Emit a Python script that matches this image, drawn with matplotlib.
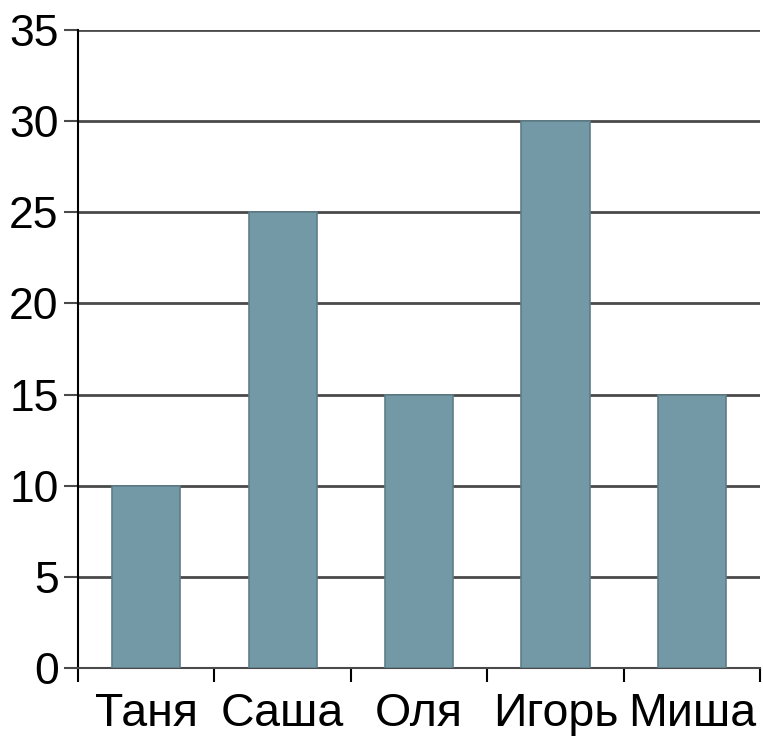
import matplotlib
matplotlib.use("Agg")
import matplotlib.pyplot as plt
import numpy as np

categories = ["Таня", "Саша", "Оля", "Игорь", "Миша"]
values = [10, 25, 15, 30, 15]
yticks = [0, 5, 10, 15, 20, 25, 30, 35]

plt.rcParams['font.family'] = ['Liberation Sans', 'DejaVu Sans']

fig = plt.figure(figsize=(7.63, 7.37), dpi=100)
ax = fig.add_axes([78/763, 69/737, 682/763, 638/737])

x = np.arange(len(categories))
ax.bar(x, values, width=0.5, color="#7399a6", edgecolor="#5e7e89", linewidth=1.2, zorder=3)

ax.set_xlim(-0.5, len(categories) - 0.5)
ax.set_ylim(0, 35)
ax.set_yticks(yticks)
ax.set_yticklabels([str(v) for v in yticks], fontsize=32)
ax.yaxis.grid(True, color="#4a4a4a", linewidth=2, zorder=1)
ax.set_axisbelow(True)

ax.set_xticks(x)
ax.set_xticklabels(categories, fontsize=33.5)
ax.tick_params(axis='x', length=0, pad=17)
ax.set_xticks(np.arange(-0.5, len(categories)), minor=True)
ax.tick_params(axis='x', which='minor', length=10, width=1.5, color="black", direction='out')
ax.tick_params(axis='y', length=10, width=1.5, color="#4a4a4a", pad=4)

for s in ['top', 'right']:
    ax.spines[s].set_visible(False)
ax.spines['left'].set_linewidth(1.5)
ax.spines['bottom'].set_linewidth(1.5)
ax.spines['bottom'].set_color("#4a4a4a")

fig.savefig("out.png", dpi=100)
